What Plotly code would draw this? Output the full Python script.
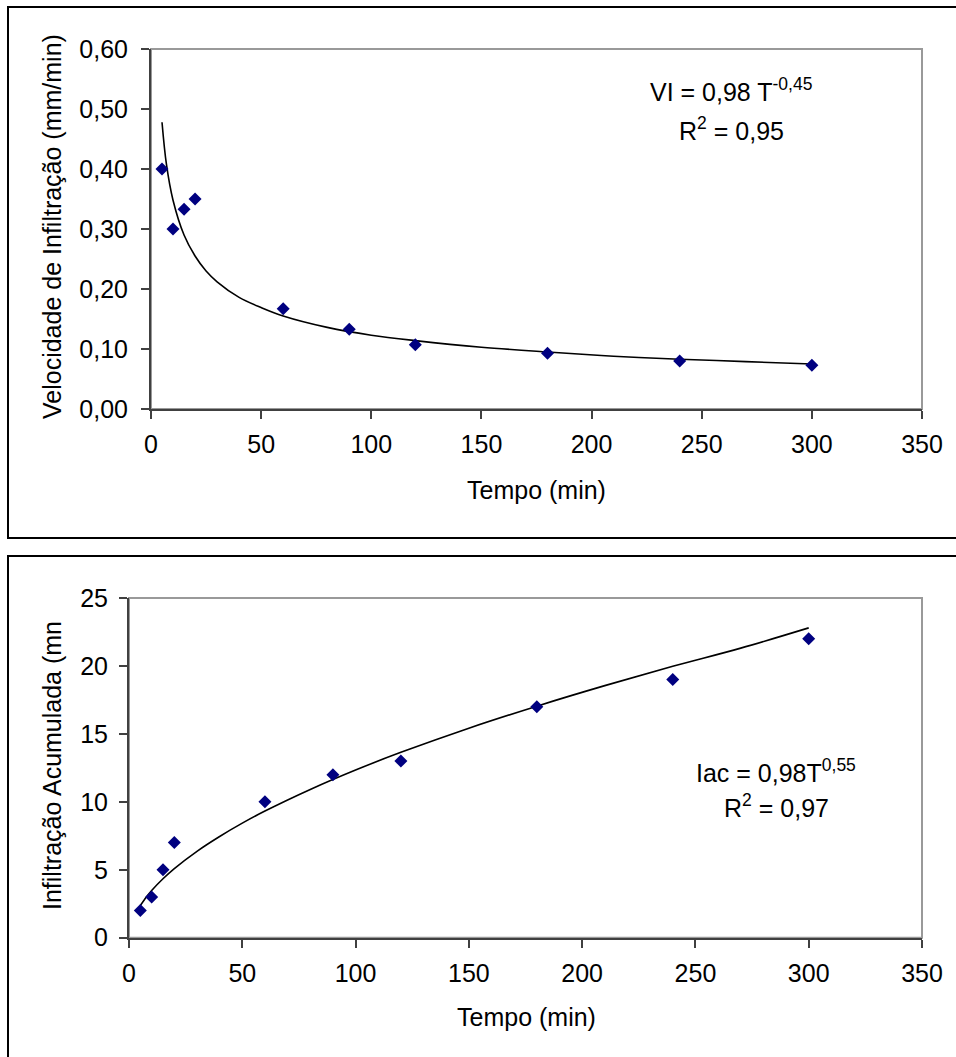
import plotly.graph_objects as go

# ---- data ----
tempo = [5, 10, 15, 20, 60, 90, 120, 180, 240, 300]
vel_infiltracao = [0.40, 0.30, 0.333, 0.35, 0.167, 0.133, 0.107, 0.093, 0.080, 0.073]
infil_acumulada = [2, 3, 5, 7, 10, 12, 13, 17, 19, 22]

# trend lines
trend_t = [5, 7, 10, 15, 20, 25, 30, 40, 50, 60, 80, 100, 120, 150, 180, 210, 240, 270, 300]
trend_vi = [0.478, 0.408, 0.348, 0.290, 0.255, 0.230, 0.212, 0.186, 0.169, 0.155, 0.136,
            0.123, 0.114, 0.103, 0.095, 0.088, 0.083, 0.079, 0.075]
trend_iac_t = [5, 8, 10, 15, 20, 30, 40, 50, 60, 80, 100, 120, 150, 180, 210, 240, 270, 300]
trend_iac = [2.37, 3.07, 3.48, 4.34, 5.09, 6.36, 7.45, 8.43, 9.32, 10.91, 12.34, 13.64,
             15.42, 17.04, 18.55, 19.97, 21.31, 22.8]

x_ticks = [0, 50, 100, 150, 200, 250, 300, 350]

W, H = 956, 1057
FONT = "Liberation Sans, Arial, sans-serif"
FS = 25

def px(x):
    return x / W

def py(y):
    return 1 - y / H

fig = go.Figure()
fig.add_trace(go.Scatter(x=trend_t, y=trend_vi, mode="lines", line=dict(color="black", width=1.6, shape="spline"),
                         xaxis="x", yaxis="y", showlegend=False, hoverinfo="skip"))
fig.add_trace(go.Scatter(x=tempo, y=vel_infiltracao, mode="markers",
                         marker=dict(symbol="diamond", size=10, color="#000080"),
                         xaxis="x", yaxis="y", showlegend=False))
fig.add_trace(go.Scatter(x=trend_iac_t, y=trend_iac, mode="lines", line=dict(color="black", width=1.6, shape="spline"),
                         xaxis="x2", yaxis="y2", showlegend=False, hoverinfo="skip"))
fig.add_trace(go.Scatter(x=tempo, y=infil_acumulada, mode="markers",
                         marker=dict(symbol="diamond", size=10, color="#000080"),
                         xaxis="x2", yaxis="y2", showlegend=False))

axis_common = dict(showgrid=False, zeroline=False, showline=True, linecolor="#404040", linewidth=2,
                   ticks="outside", ticklen=8, tickcolor="#404040", tickwidth=1.5, automargin=False,
                   tickfont=dict(family=FONT, size=FS, color="black"))

fig.update_layout(
    width=W, height=H,
    margin=dict(l=0, r=0, t=0, b=0, autoexpand=False),
    paper_bgcolor="white", plot_bgcolor="white",
    separators=",.",
    xaxis=dict(domain=[px(151), px(922)], anchor="y", range=[0, 350], tickvals=x_ticks,
               ticklabelstandoff=4, **axis_common),
    yaxis=dict(domain=[py(409), py(49)], anchor="x", range=[0, 0.6], dtick=0.1, tickformat=".2f",
               ticklabelstandoff=8, **axis_common),
    xaxis2=dict(domain=[px(129), px(922)], anchor="y2", range=[0, 350], tickvals=x_ticks,
                ticklabelstandoff=4, **axis_common),
    yaxis2=dict(domain=[py(937.7), py(598)], anchor="x2", range=[0, 25], dtick=5,
                ticklabelstandoff=6, **axis_common),
)

shapes = []
# gray plot-area frames
for xr, yr in [("x domain", "y domain"), ("x2 domain", "y2 domain")]:
    shapes.append(dict(type="rect", xref=xr, yref=yr, x0=0, x1=1, y0=0, y1=1,
                       line=dict(color="#999999", width=2), layer="below"))
# chart panel borders
shapes.append(dict(type="rect", xref="paper", yref="paper", x0=px(8), x1=px(975), y0=py(538), y1=py(7),
                   line=dict(color="black", width=2)))
shapes.append(dict(type="rect", xref="paper", yref="paper", x0=px(8), x1=px(975), y0=py(1075), y1=py(556),
                   line=dict(color="black", width=2)))
fig.update_layout(shapes=shapes)

ann_font = dict(family=FONT, size=FS, color="black")

def ann(text, x, y, angle=0):
    return dict(text=text, x=px(x), y=py(y), xref="paper", yref="paper", showarrow=False,
                font=ann_font, textangle=angle, xanchor="center", yanchor="middle")

annotations = [
    ann("Tempo (min)", 536, 490),
    ann("Velocidade de Infiltração (mm/min)", 52, 227, -90),
    ann("Tempo (min)", 526, 1017),
    ann("Infiltração Acumulada (mn", 52, 766, -90),
    ann("VI = 0,98 T<sup>-0,45</sup>", 731, 90),
    ann("R<sup>2</sup> = 0,95", 731, 129),
    ann("Iac = 0,98T<sup>0,55</sup>", 776, 771),
    ann("R<sup>2</sup> = 0,97", 776, 806),
]
fig.update_layout(annotations=annotations)

post = ("document.documentElement.style.margin='0';document.documentElement.style.padding='0';"
        "document.body.style.margin='0';document.body.style.padding='0';"
        "document.body.style.overflow='hidden';")
fig.write_html("out.html", post_script=post, config={"displayModeBar": False})
